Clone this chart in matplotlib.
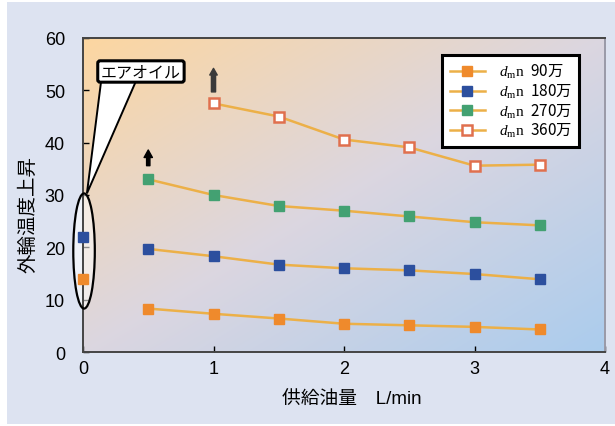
import numpy as np
import matplotlib
matplotlib.use("Agg")
import matplotlib.pyplot as plt
from matplotlib.patches import Ellipse, Polygon, Rectangle

plt.rcParams['font.family'] = ['Liberation Sans', 'Noto Sans CJK JP', 'DejaVu Sans']
plt.rcParams['mathtext.fontset'] = 'custom'
plt.rcParams['mathtext.it'] = 'Liberation Serif:italic'
plt.rcParams['mathtext.rm'] = 'Liberation Serif'
plt.rcParams['mathtext.sf'] = 'Noto Sans CJK JP'

# oil flow rate [L/min] and outer ring temperature rise per dmn value
flow = [0.5, 1.0, 1.5, 2.0, 2.5, 3.0, 3.5]
flow_360 = [1.0, 1.5, 2.0, 2.5, 3.0, 3.5]
rise_90 = [8.3, 7.3, 6.4, 5.4, 5.1, 4.8, 4.3]
rise_180 = [19.7, 18.3, 16.7, 16.0, 15.6, 14.9, 13.9]
rise_270 = [33.0, 30.0, 27.9, 27.0, 25.9, 24.8, 24.2]
rise_360 = [47.5, 45.0, 40.6, 39.1, 35.6, 35.8]

# air-oil lubrication results (flow 0)
airoil_90 = 13.9
airoil_180 = 22.0

speeds = ['90万', '180万', '270万', '360万']
labels = [r'$\mathit{d}_{\mathrm{m}}\mathrm{n}\ \ \mathsf{' + s + '}$' for s in speeds]

c_line = '#ecb048'
c_90 = '#ef8a2c'
c_180 = '#2c4f9e'
c_270 = '#43a172'
c_360 = '#e0704e'

fig = plt.figure(figsize=(6.15, 4.27), dpi=100, facecolor='white')
fig.patches.append(Rectangle((7 / 615, 1 - 425 / 427), 1, 422 / 427,
                             transform=fig.transFigure, facecolor='#dde3f1',
                             edgecolor='none', zorder=-10))

ax = fig.add_axes([83 / 615, 1 - 353 / 427, 522 / 615, 314 / 427])

# diagonal gradient background: peach top-left to light blue bottom-right
n = 200
gx, gy = np.meshgrid(np.linspace(0, 1, n), np.linspace(0, 1, n))
t = np.clip((gx + gy) / 2, 0, 1)[..., None]
c0 = np.array([0.99, 0.84, 0.63])
c1 = np.array([0.86, 0.84, 0.88])
c2 = np.array([0.67, 0.80, 0.93])
grad = np.where(t < 0.5, c0 + (c1 - c0) * (t / 0.5), c1 + (c2 - c1) * ((t - 0.5) / 0.5))
ax.imshow(grad, extent=[0, 1, 0, 1], transform=ax.transAxes, aspect='auto',
          zorder=0, origin='upper')

ms = 7.5
ax.plot(flow, rise_90, color=c_line, lw=1.8, marker='s', ms=ms, mfc=c_90, mec=c_90, label=labels[0], zorder=3)
ax.plot(flow, rise_180, color=c_line, lw=1.8, marker='s', ms=ms, mfc=c_180, mec=c_180, label=labels[1], zorder=3)
ax.plot(flow, rise_270, color=c_line, lw=1.8, marker='s', ms=ms, mfc=c_270, mec=c_270, label=labels[2], zorder=3)
ax.plot(flow_360, rise_360, color=c_line, lw=1.8, marker='s', ms=ms, mfc='white', mec=c_360, mew=1.8,
        label=labels[3], zorder=3)

# air-oil points and the ellipse around them
ax.add_patch(Ellipse((0.008, 19.3), 0.165, 22, facecolor='white', alpha=0.55, edgecolor='none',
                     clip_on=False, zorder=2))
ax.add_patch(Ellipse((0.008, 19.3), 0.165, 22, facecolor='none', edgecolor='black', lw=1.6,
                     clip_on=False, zorder=4))
ax.plot([0], [airoil_90], 's', ms=ms, color=c_90, clip_on=False, zorder=3)
ax.plot([0], [airoil_180], 's', ms=ms, color=c_180, clip_on=False, zorder=3)

# callout
ax.add_patch(Polygon([[0.14, 52], [0.41, 52], [0.03, 30.3]], closed=True, facecolor='white',
                     edgecolor='black', lw=1.4, zorder=5))
ax.text(0.444, 53.6, 'エアオイル', fontsize=11.5, ha='center', va='center', zorder=6,
        bbox=dict(boxstyle='round,pad=0.2,rounding_size=0.15', facecolor='white',
                  edgecolor='black', lw=2.2))

# arrows: values beyond range
ax.annotate('', xy=(0.5, 38.6), xytext=(0.5, 35.6),
            arrowprops=dict(arrowstyle='simple,head_length=0.9,head_width=1.0,tail_width=0.4',
                            fc='black', ec='black', mutation_scale=6, shrinkA=0, shrinkB=0), zorder=5)
ax.annotate('', xy=(1.0, 54.2), xytext=(1.0, 49.7),
            arrowprops=dict(arrowstyle='simple,head_length=0.8,head_width=0.9,tail_width=0.5',
                            fc='#3a3a3a', ec='#3a3a3a', mutation_scale=6, shrinkA=0, shrinkB=0), zorder=5)

ax.set_xlim(0, 4)
ax.set_ylim(0, 60)
ax.set_xticks([0, 1, 2, 3, 4])
ax.set_yticks([0, 10, 20, 30, 40, 50, 60])
ax.tick_params(direction='in', length=4, labelsize=13, colors='black', width=1)
ax.tick_params(axis='x', pad=6)
ax.tick_params(axis='y', pad=13)
for s in ['left', 'bottom', 'top']:
    ax.spines[s].set_color('#444444')
    ax.spines[s].set_linewidth(1.4)
ax.spines['right'].set_color('#9a9aa8')
ax.spines['right'].set_linewidth(1.4)

ax.set_xlabel('供給油量　L/min', fontsize=13.5)
ax.xaxis.set_label_coords(0.515, -0.125)
ax.set_ylabel('外輪温度上昇', fontsize=14)
ax.yaxis.set_label_coords(-0.088, 0.44)

leg = ax.legend(loc='upper right', bbox_to_anchor=(0.9655, 0.971), fontsize=11, frameon=True,
                fancybox=False, edgecolor='black', handlelength=2.3, borderpad=0.5,
                labelspacing=0.1, handletextpad=0.9)
leg.get_frame().set_linewidth(2.2)
leg.get_frame().set_facecolor('white')
leg.get_frame().set_alpha(1)

fig.savefig('out.png', dpi=100, facecolor=fig.get_facecolor())
